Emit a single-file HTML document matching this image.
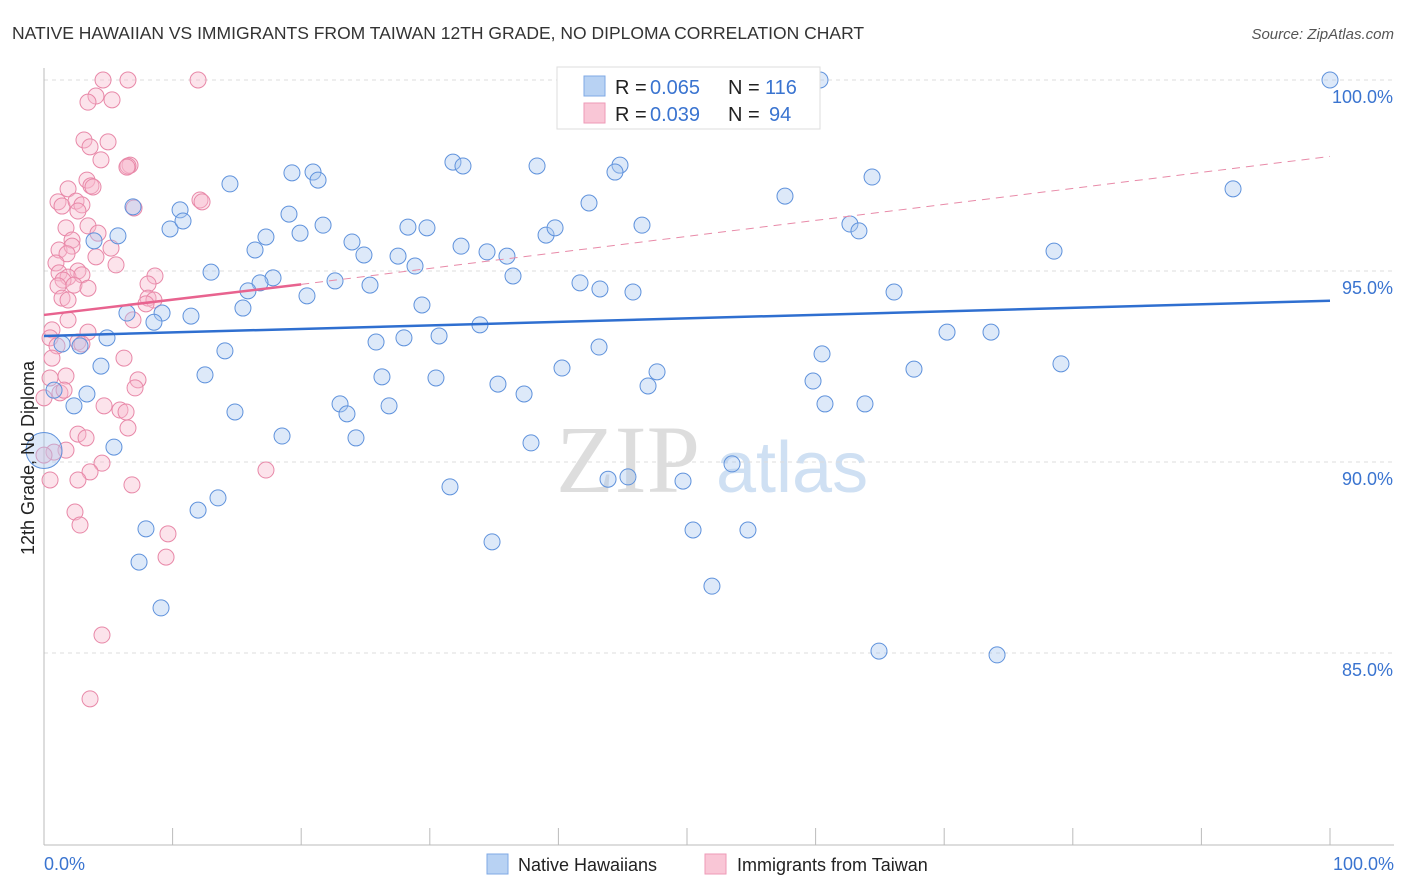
<!DOCTYPE html>
<html><head><meta charset="utf-8"><style>
body{margin:0;background:#fff;font-family:"Liberation Sans",sans-serif;}
svg{display:block}
</style></head><body>
<svg id="chart" width="1406" height="892" xmlns="http://www.w3.org/2000/svg">
<text x="12" y="39" font-size="17.5" fill="#333">NATIVE HAWAIIAN VS IMMIGRANTS FROM TAIWAN 12TH GRADE, NO DIPLOMA CORRELATION CHART</text>
<text x="1394" y="39" font-size="15" fill="#555" font-style="italic" text-anchor="end">Source: ZipAtlas.com</text>
<text x="556" y="492" font-size="96" fill="#ddd" font-family="Liberation Serif,serif">ZIP</text>
<text x="716" y="492" font-size="72" fill="#cfe0f3">atlas</text>
<g id="grid"></g><g id="axes"></g><g id="pts"></g><g id="trend"></g>
<text transform="translate(34,458) rotate(-90)" font-size="18" fill="#222" text-anchor="middle">12th Grade, No Diploma</text>
<text x="44" y="870" font-size="18" fill="#3a74d0">0.0%</text>
<text x="1394" y="870" font-size="18" fill="#3a74d0" text-anchor="end">100.0%</text>
<g>
<rect x="557" y="67" width="263" height="62" fill="#fff" stroke="#ddd"/>
<rect x="584" y="76" width="21" height="20" fill="#b8d2f3" stroke="#7fa9e6"/>
<rect x="584" y="103" width="21" height="20" fill="#f9c6d6" stroke="#ee9ab7"/>
<text x="615" y="94" font-size="20" fill="#222">R =</text>
<text x="650" y="94" font-size="20" fill="#3a74d0">0.065</text>
<text x="728" y="94" font-size="20" fill="#222">N =</text>
<text x="765" y="94" font-size="20" fill="#3a74d0">116</text>
<text x="615" y="121" font-size="20" fill="#222">R =</text>
<text x="650" y="121" font-size="20" fill="#3a74d0">0.039</text>
<text x="728" y="121" font-size="20" fill="#222">N =</text>
<text x="769" y="121" font-size="20" fill="#3a74d0">94</text>
</g>
<g>
<rect x="487" y="854" width="21" height="20" fill="#b8d2f3" stroke="#7fa9e6"/>
<text x="518" y="871" font-size="18" fill="#222">Native Hawaiians</text>
<rect x="705" y="854" width="21" height="20" fill="#f9c6d6" stroke="#ee9ab7"/>
<text x="737" y="871" font-size="18" fill="#222">Immigrants from Taiwan</text>
</g>
</svg>
<script>
const yTicks=[100,95,90,85];
const yTickLabels=["100.0%","95.0%","90.0%","85.0%"];
const xTicks=[0,10,20,30,40,50,60,70,80,90,100];
const bluePx=[[1330,80],[820,80],[807,80],[578,80],[1233,189],[453,162],[463,166],[537,166],[620,165],[615,172],[872,177],[292,173],[313,172],[318,180],[230,184],[785,196],[589,203],[133,207],[180,210],[289,214],[642,225],[850,224],[859,231],[170,229],[183,221],[323,225],[300,233],[408,227],[427,228],[118,236],[266,237],[352,242],[255,250],[461,246],[546,235],[555,228],[94,241],[364,255],[398,256],[487,252],[507,256],[1054,251],[415,266],[211,272],[513,276],[273,278],[260,283],[335,281],[370,285],[580,283],[600,289],[633,292],[894,292],[248,291],[307,296],[422,305],[243,308],[127,313],[162,313],[191,316],[154,322],[480,325],[947,332],[991,332],[107,338],[62,344],[80,346],[376,342],[404,338],[439,336],[599,347],[225,351],[822,354],[1061,364],[101,366],[205,375],[562,368],[914,369],[657,372],[382,377],[436,378],[498,384],[524,394],[648,386],[813,381],[54,390],[87,394],[74,406],[825,404],[865,404],[340,404],[389,406],[347,414],[235,412],[356,438],[282,436],[531,443],[114,447],[732,464],[628,477],[608,479],[683,481],[450,487],[218,498],[198,510],[146,529],[693,530],[748,530],[492,542],[139,562],[712,586],[161,608],[879,651],[997,655]];
const pinkPx=[[103,80],[128,80],[198,80],[96,96],[88,102],[112,100],[84,140],[108,142],[90,147],[101,160],[130,165],[128,166],[127,167],[87,180],[91,186],[68,189],[93,187],[58,202],[62,206],[76,201],[82,205],[78,211],[134,208],[200,200],[202,202],[88,226],[66,228],[98,233],[72,240],[59,250],[72,246],[111,248],[67,254],[96,257],[116,265],[56,263],[78,271],[59,273],[68,277],[63,280],[82,275],[155,276],[74,285],[88,288],[58,286],[148,284],[62,298],[68,300],[148,298],[154,300],[146,304],[68,320],[133,320],[88,332],[52,330],[50,338],[78,342],[82,344],[57,346],[52,358],[124,358],[66,376],[138,380],[50,378],[135,388],[60,393],[64,390],[44,398],[104,406],[120,410],[126,412],[128,428],[78,434],[86,438],[66,450],[54,452],[44,455],[102,463],[90,472],[266,470],[50,480],[78,480],[132,485],[75,512],[80,525],[168,534],[166,557],[102,635],[90,699]];
const blueX=bluePx.map(p=>+((p[0]-44)/12.86).toFixed(2));
const blueY=bluePx.map(p=>+(100-(p[1]-80)/38.2).toFixed(2));
const pinkX=pinkPx.map(p=>+((p[0]-44)/12.86).toFixed(2));
const pinkY=pinkPx.map(p=>+(100-(p[1]-80)/38.2).toFixed(2));
const blueTrend=[93.3,94.22];
const pinkTrend=[93.85,94.65,98.0];
const sx=v=>44+v*12.86, sy=v=>80+(100-v)*38.2;
const NS="http://www.w3.org/2000/svg";
function mk(t,a,p){const e=document.createElementNS(NS,t);for(const k in a)e.setAttribute(k,a[k]);p.appendChild(e);return e;}
const grid=document.getElementById('grid'),axes=document.getElementById('axes'),pts=document.getElementById('pts'),tr=document.getElementById('trend');
yTicks.forEach((v,i)=>{
 const l=mk('line',{x1:44,x2:1394,y1:sy(v),y2:sy(v),stroke:'#ddd','stroke-dasharray':'4,4'},grid);
 
 
 const t=mk('text',{x:1393,y:sy(v)+23,'font-size':18,fill:'#3a74d0','text-anchor':'end'},axes);
 t.textContent=yTickLabels[i];
 
 
});
const ax=mk('line',{x1:44,x2:1394,y1:845,y2:845,stroke:'#bbb'},axes);


const ay=mk('line',{x1:44,x2:44,y1:68,y2:845,stroke:'#bbb'},axes);


xTicks.forEach(v=>{const t=mk('line',{x1:sx(v),x2:sx(v),y1:828,y2:845,stroke:'#bbb'},axes);
 
 });
function dots(X,Y,fill,stroke,name){X.forEach((x,i)=>{
 const c=mk('circle',{cx:sx(x),cy:sy(Y[i]),r:8,fill:fill,'fill-opacity':0.4,stroke:stroke,'stroke-width':1},pts);
 
 });}
dots(pinkX,pinkY,'#f7b8cc','#e888a8','taiwan-point');
dots(blueX,blueY,'#a9c7f0','#5f92dc','hawaiian-point');
const big=mk('circle',{cx:sx(0),cy:sy(90.3),r:18,fill:'#a9c7f0','fill-opacity':0.4,stroke:'#5f92dc'},pts);


const bl=mk('line',{x1:sx(0),x2:sx(100),y1:sy(blueTrend[0]),y2:sy(blueTrend[1]),stroke:'#2f6fd0','stroke-width':2.5},tr);


const pl=mk('line',{x1:sx(0),x2:sx(20),y1:sy(pinkTrend[0]),y2:sy(pinkTrend[1]),stroke:'#e8638f','stroke-width':2.5},tr);


const pd=mk('line',{x1:sx(20),x2:sx(100),y1:sy(pinkTrend[1]),y2:sy(pinkTrend[2]),stroke:'#e88aa8','stroke-width':1,'stroke-dasharray':'8,6'},tr);


</script>
</body></html>
